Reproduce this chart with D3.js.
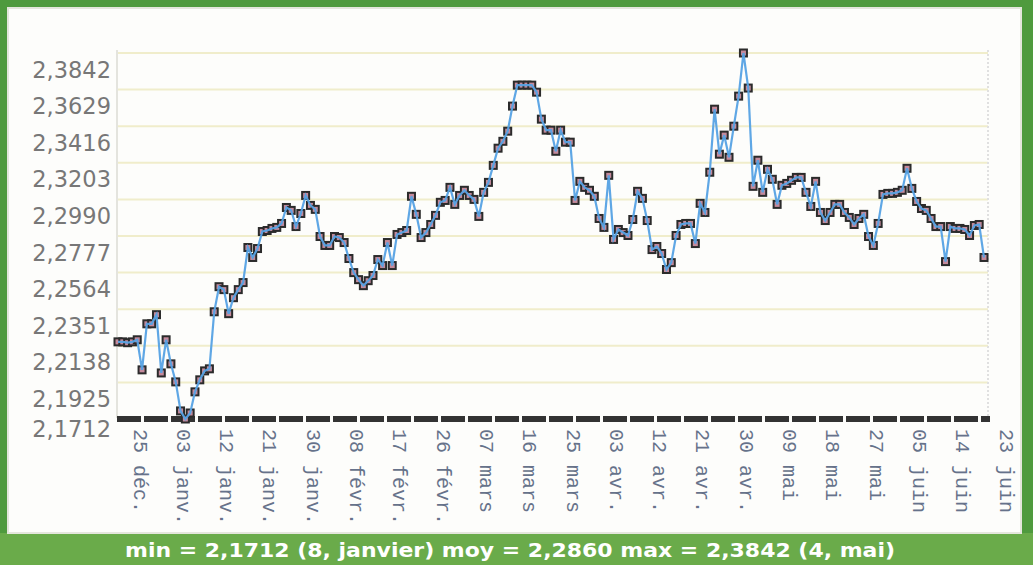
<!DOCTYPE html>
<html>
<head>
<meta charset="utf-8">
<script src="https://cdn.jsdelivr.net/npm/d3@7"></script>
<style>
  html, body { margin: 0; padding: 0; background: #5f9f43; }
  svg { display: block; }
</style>
</head>
<body>
<svg id="chart" width="1033" height="565"></svg>
<script>
// daily values, starting 25 déc.
var startDate = "2022-12-25";
var values = [
  2.2161, 2.2161, 2.2156, 2.2161, 2.2173, 2.1998, 2.2266, 2.2266, 2.2319, 2.1980,
  2.2173, 2.2033, 2.1928, 2.1759, 2.1712, 2.1747, 2.1870, 2.1940, 2.1992, 2.2004,
  2.2336, 2.2482, 2.2465, 2.2325, 2.2418, 2.2465, 2.2506, 2.2710, 2.2652, 2.2704,
  2.2803, 2.2809, 2.2821, 2.2827, 2.2850, 2.2943, 2.2926, 2.2832, 2.2908, 2.3013,
  2.2955, 2.2932, 2.2774, 2.2722, 2.2722, 2.2774, 2.2768, 2.2739, 2.2646, 2.2564,
  2.2523, 2.2488, 2.2517, 2.2547, 2.2640, 2.2605, 2.2739, 2.2605, 2.2786, 2.2797,
  2.2809, 2.3008, 2.2903, 2.2768, 2.2797, 2.2844, 2.2897, 2.2973, 2.2984, 2.3060,
  2.2961, 2.3013, 2.3043, 2.3013, 2.2990, 2.2891, 2.3031, 2.3089, 2.3188, 2.3288,
  2.3328, 2.3387, 2.3533, 2.3655, 2.3655, 2.3655, 2.3655, 2.3614, 2.3457, 2.3393,
  2.3393, 2.3270, 2.3393, 2.3323, 2.3323, 2.2984, 2.3095, 2.3060, 2.3043, 2.3008,
  2.2879, 2.2827, 2.3130, 2.2757, 2.2815, 2.2797, 2.2780, 2.2873, 2.3037, 2.2996,
  2.2867, 2.2698, 2.2716, 2.2675, 2.2582, 2.2622, 2.2780, 2.2844, 2.2850, 2.2850,
  2.2733, 2.2967, 2.2914, 2.3148, 2.3515, 2.3253, 2.3364, 2.3235, 2.3416, 2.3591,
  2.3842, 2.3638, 2.3066, 2.3218, 2.3031, 2.3165, 2.3107, 2.2961, 2.3072, 2.3083,
  2.3101, 2.3118, 2.3118, 2.3031, 2.2949, 2.3095, 2.2914, 2.2867, 2.2914, 2.2961,
  2.2961, 2.2914, 2.2885, 2.2844, 2.2879, 2.2903, 2.2774, 2.2722, 2.2850, 2.3019,
  2.3025, 2.3025, 2.3031, 2.3043, 2.3171, 2.3054, 2.2978, 2.2937, 2.2926, 2.2879,
  2.2832, 2.2832, 2.2628, 2.2832, 2.2821, 2.2821, 2.2815, 2.2780, 2.2838, 2.2844,
  2.2652
];

var yTicks = [2.1712, 2.1925, 2.2138, 2.2351, 2.2564, 2.2777, 2.2990, 2.3203, 2.3416, 2.3629, 2.3842];

var xTickDates = [
  "2022-12-25", "2023-01-03", "2023-01-12", "2023-01-21", "2023-01-30", "2023-02-08",
  "2023-02-17", "2023-02-26", "2023-03-07", "2023-03-16", "2023-03-25", "2023-04-03",
  "2023-04-12", "2023-04-21", "2023-04-30", "2023-05-09", "2023-05-18", "2023-05-27",
  "2023-06-05", "2023-06-14", "2023-06-23"
];
var monthNames = ["janv.", "févr.", "mars", "avr.", "mai", "juin", "juil.", "août", "sept.", "oct.", "nov.", "déc."];

var footerText = "min = 2,1712 (8, janvier) moy = 2,2860  max = 2,3842 (4, mai)";

var parseDay = d3.timeParse("%Y-%m-%d");
var start = parseDay(startDate);
var points = values.map(function (v, i) {
    return { date: d3.timeDay.offset(start, i), value: v };
});

var svg = d3.select('#chart');

// frame
svg.append('rect').attr('x', 0).attr('y', 0).attr('width', 1033).attr('height', 565).attr('fill', '#4f9a3e');
svg.append('rect').attr('x', 0).attr('y', 533).attr('width', 1033).attr('height', 32).attr('fill', '#6aab4a');
svg.append('rect').attr('x', 8).attr('y', 8).attr('width', 1013).attr('height', 525)
    .attr('fill', '#fdfdfb').attr('stroke', '#e4e6dc').attr('stroke-width', 2);

var x = d3.scaleTime()
    .domain([start, parseDay("2023-06-23")])
    .range([118, 984]);

var y = d3.scaleLinear()
    .domain([yTicks[0], yTicks[yTicks.length - 1]])
    .range([419, 53]);

// gridlines
svg.append('g')
    .selectAll('line')
    .data(yTicks.slice(1))
    .enter()
    .append('line')
    .attr('x1', 117)
    .attr('x2', 988)
    .attr('y1', function (d) { return y(d); })
    .attr('y2', function (d) { return y(d); })
    .attr('stroke', '#f0edcb')
    .attr('stroke-width', 2);

// plot sides
svg.append('line').attr('x1', 117).attr('x2', 117).attr('y1', 50).attr('y2', 418)
    .attr('stroke', '#e4e4de').attr('stroke-width', 2);
svg.append('line').attr('x1', 988).attr('x2', 988).attr('y1', 50).attr('y2', 418)
    .attr('stroke', '#e0e0e0').attr('stroke-width', 2).attr('stroke-dasharray', '2,2');

// y axis
var yAxis = svg.append('g')
    .attr('transform', 'translate(113,0)')
    .call(d3.axisLeft(y)
        .tickValues(yTicks)
        .tickSize(0)
        .tickPadding(2)
        .tickFormat(function (d) { return d.toFixed(4).replace('.', ','); }));
yAxis.select('.domain').remove();
yAxis.selectAll('text')
    .attr('font-family', '"DejaVu Sans", Verdana, sans-serif')
    .attr('font-size', 22.5)
    .attr('fill', '#777777')
    .attr('dy', '0.36em')
    .attr('y', function (d) { return d === yTicks[0] ? 9 : 16; });

// x axis
var xAxis = svg.append('g')
    .attr('transform', 'translate(0,419)')
    .call(d3.axisBottom(x)
        .tickValues(xTickDates.map(parseDay))
        .tickSize(0)
        .tickFormat(function (d) {
            return d3.timeFormat("%d")(d) + " " + monthNames[d.getMonth()];
        }));
xAxis.select('.domain').remove();
xAxis.selectAll('text')
    .attr('font-family', '"Liberation Mono", "DejaVu Sans Mono", monospace')
    .attr('font-size', 20)
    .attr('fill', '#66728a')
    .attr('text-anchor', 'start')
    .attr('x', 0)
    .attr('y', 0)
    .attr('dy', '0.35em')
    .attr('transform', 'translate(22,10) rotate(90)');

// bottom axis bar
svg.append('line')
    .attr('x1', 117).attr('x2', 990)
    .attr('y1', 419).attr('y2', 419)
    .attr('stroke', '#333333')
    .attr('stroke-width', 6)
    .attr('stroke-dasharray', '24,3');

// markers
svg.append('g')
    .selectAll('rect')
    .data(points)
    .enter()
    .append('rect')
    .attr('x', function (d) { return x(d.date) - 3.5; })
    .attr('y', function (d) { return y(d.value) - 3.5; })
    .attr('width', 7)
    .attr('height', 7)
    .attr('fill', '#c48a9c')
    .attr('stroke', '#2b2b2b')
    .attr('stroke-width', 2);

// line on top
var line = d3.line()
    .x(function (d) { return x(d.date); })
    .y(function (d) { return y(d.value); });

svg.append('path')
    .datum(points)
    .attr('d', line)
    .attr('fill', 'none')
    .attr('stroke', '#56a2e4')
    .attr('stroke-width', 2.2)
    .attr('opacity', 0.95);

// footer
svg.append('text')
    .attr('x', 510)
    .attr('y', 557)
    .attr('text-anchor', 'middle')
    .attr('font-family', '"DejaVu Sans", Verdana, sans-serif')
    .attr('font-weight', 'bold')
    .attr('font-size', 19)
    .attr('fill', '#ffffff')
    .attr('textLength', 770)
    .attr('lengthAdjust', 'spacingAndGlyphs')
    .text(footerText);
</script>
</body>
</html>
